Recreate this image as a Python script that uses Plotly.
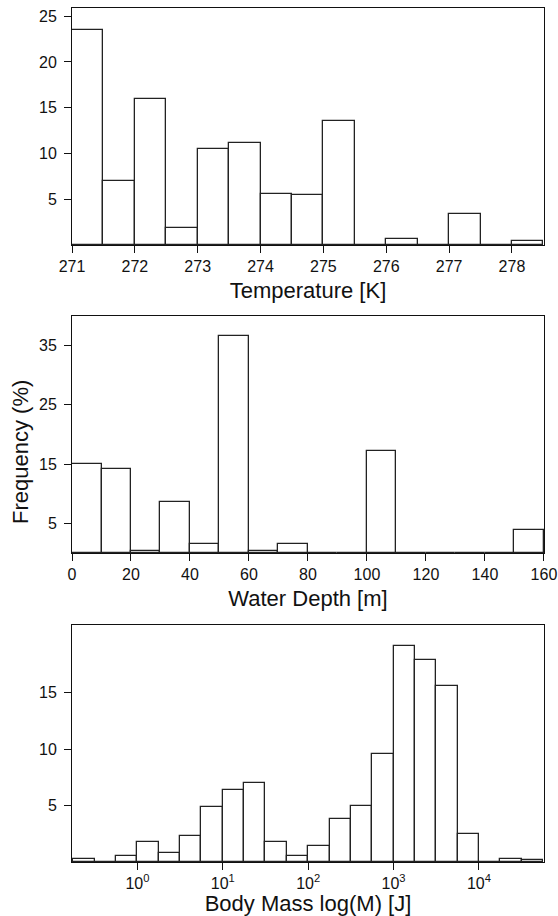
import plotly.graph_objects as go
from plotly.subplots import make_subplots

# ---- data ----
temp_bin_left = [271.0, 271.5, 272.0, 272.5, 273.0, 273.5, 274.0, 274.5,
                 275.0, 275.5, 276.0, 276.5, 277.0, 277.5, 278.0]
temp_bin_width = 0.5
temp_freq = [23.55, 7.0, 16.0, 1.84, 10.48, 11.13, 5.61, 5.43,
             13.56, 0.0, 0.71, 0.0, 3.36, 0.0, 0.42]

depth_bin_left = [0, 10, 20, 30, 40, 50, 60, 70, 80, 90, 100, 110, 120, 130, 140, 150]
depth_bin_width = 10
depth_freq = [15.0, 14.2, 0.3, 8.6, 1.5, 36.6, 0.3, 1.5, 0.0, 0.0, 17.2, 0.0, 0.0, 0.0, 0.0, 3.9]

mass_bin_left_log10 = [-0.75, -0.5, -0.25, 0.0, 0.25, 0.5, 0.75, 1.0, 1.25, 1.5, 1.75,
                       2.0, 2.25, 2.5, 2.75, 3.0, 3.25, 3.5, 3.75, 4.0, 4.25, 4.5]
mass_bin_width = 0.25
mass_freq = [0.3, 0.0, 0.5, 1.76, 0.79, 2.29, 4.91, 6.35, 7.0, 1.76, 0.5,
             1.44, 3.85, 5.0, 9.59, 19.15, 17.88, 15.59, 2.5, 0.0, 0.3, 0.15]

temp_ticks = [271, 272, 273, 274, 275, 276, 277, 278]
depth_ticks = [0, 20, 40, 60, 80, 100, 120, 140, 160]
mass_ticks = [0, 1, 2, 3, 4]
mass_ticktext = ["10<sup>%d</sup>" % k for k in mass_ticks]

y1_ticks = [5, 10, 15, 20, 25]
y2_ticks = [5, 15, 25, 35]
y3_ticks = [5, 10, 15]

# ---- figure ----
W, H = 558, 916
FONT = "Liberation Sans, Arial, Helvetica, sans-serif"
INK = "#111111"
BAR_LINE = "#222222"

fig = make_subplots(rows=3, cols=1)

def bars(lefts, width, vals, row):
    centers = [l + width / 2 for l in lefts]
    fig.add_trace(go.Bar(x=centers, y=vals, width=[width] * len(vals),
                         marker=dict(color="white", line=dict(color=BAR_LINE, width=1.3)),
                         showlegend=False, hoverinfo="x+y"), row=row, col=1)

bars(temp_bin_left, temp_bin_width, temp_freq, 1)
bars(depth_bin_left, depth_bin_width, depth_freq, 2)
bars(mass_bin_left_log10, mass_bin_width, mass_freq, 3)

xdom = [72 / W, 544 / W]
panels = [(8, 245), (316, 553), (625, 862)]
ydoms = [[(H - b) / H, (H - t) / H] for t, b in panels]

axcommon = dict(showline=True, linecolor=INK, linewidth=1, mirror=True,
                ticks="outside", ticklen=7, tickwidth=1, tickcolor=INK,
                showgrid=False, zeroline=False,
                tickfont=dict(family=FONT, size=16, color=INK),
                title_font=dict(family=FONT, size=22, color=INK))

fig.update_layout(
    width=W, height=H, margin=dict(l=0, r=0, t=0, b=0),
    paper_bgcolor="white", plot_bgcolor="white", bargap=0,
    font=dict(family=FONT, color=INK),
)

# panel 1
fig.update_xaxes(axcommon, row=1, col=1, domain=xdom, range=[271, 278.51],
                 tickvals=temp_ticks, title_text="Temperature [K]", title_standoff=8,
                 ticklabeloverflow="allow", automargin=False)
fig.update_yaxes(axcommon, row=1, col=1, domain=ydoms[0], range=[0, 25.9],
                 tickvals=y1_ticks, ticklabelstandoff=4, automargin=False)
# panel 2
fig.update_xaxes(axcommon, row=2, col=1, domain=xdom, range=[0, 160.02],
                 tickvals=depth_ticks, title_text="Water Depth [m]", title_standoff=8,
                 ticklabeloverflow="allow", automargin=False)
fig.update_yaxes(axcommon, row=2, col=1, domain=ydoms[1], range=[0, 40],
                 tickvals=y2_ticks, ticklabelstandoff=4, automargin=False)
# panel 3
fig.update_xaxes(axcommon, row=3, col=1, domain=xdom, range=[-0.766, 4.762],
                 tickvals=mass_ticks, ticktext=mass_ticktext,
                 title_text="Body Mass log(M) [J]", title_standoff=4,
                 ticklabeloverflow="allow", automargin=False)
fig.update_yaxes(axcommon, row=3, col=1, domain=ydoms[2], range=[0, 21],
                 tickvals=y3_ticks, ticklabelstandoff=4, automargin=False)

# shared y-axis label, centred on the figure height as in the reference
fig.add_annotation(text="Frequency (%)", textangle=-90, showarrow=False,
                   xref="paper", yref="paper", x=20 / W, y=(H - 452) / H,
                   xanchor="center", yanchor="middle",
                   font=dict(family=FONT, size=22, color=INK))

fig.write_html("out.html")
